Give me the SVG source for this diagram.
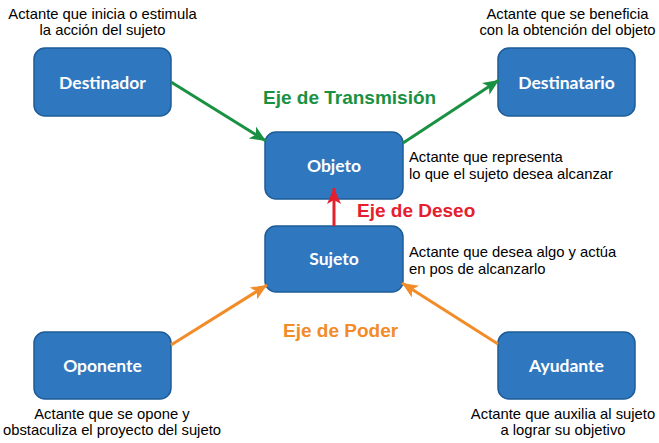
<svg xmlns="http://www.w3.org/2000/svg" width="659" height="443" viewBox="0 0 659 443">
<style>
.box{fill:#2F77BF;stroke:#1E5C98;stroke-width:1.5}
.lbl{font-family:Lato,"Open Sans",sans-serif;font-weight:bold;font-size:17.5px;fill:#fff;text-anchor:middle}
.ann{font-family:"Liberation Sans",Arial,sans-serif;font-size:14.8px;fill:#000}
.axis{font-family:"Liberation Sans",Arial,sans-serif;font-weight:bold;font-size:19px}
.g{stroke:#1A9142;stroke-width:3;fill:none}
.r{stroke:#E5202E;stroke-width:3;fill:none}
.o{stroke:#F28C28;stroke-width:3;fill:none}
</style>
<defs>
<marker id="ag" markerUnits="userSpaceOnUse" markerWidth="16" markerHeight="14" refX="16" refY="7" orient="auto"><path d="M0,0 L16,7 L0,14 L4,7 z" fill="#1A9142"/></marker>
<marker id="ar" markerUnits="userSpaceOnUse" markerWidth="16" markerHeight="14" refX="16" refY="7" orient="auto"><path d="M0,0 L16,7 L0,14 L4,7 z" fill="#E5202E"/></marker>
<marker id="ao" markerUnits="userSpaceOnUse" markerWidth="16" markerHeight="14" refX="16" refY="7" orient="auto"><path d="M0,0 L16,7 L0,14 L4,7 z" fill="#F28C28"/></marker>
</defs>
<g id="destinador"><rect class="box" x="34" y="48" width="137" height="68" rx="11"/><text class="lbl" x="102.5" y="89">Destinador</text></g>
<g id="destinatario"><rect class="box" x="498" y="48" width="137" height="68" rx="11"/><text class="lbl" x="566.5" y="89">Destinatario</text></g>
<g id="objeto"><rect class="box" x="265" y="132" width="138" height="67" rx="11"/><text class="lbl" x="334" y="172">Objeto</text></g>
<g id="sujeto"><rect class="box" x="265" y="226" width="138" height="66" rx="11"/><text class="lbl" x="334" y="265">Sujeto</text></g>
<g id="oponente"><rect class="box" x="34" y="332" width="137" height="67" rx="11"/><text class="lbl" x="102.5" y="372">Oponente</text></g>
<g id="ayudante"><rect class="box" x="498" y="332" width="137" height="67" rx="11"/><text class="lbl" x="566.5" y="372">Ayudante</text></g>
<g id="connectors">
<line class="g" x1="171" y1="82" x2="266" y2="141" marker-end="url(#ag)"/>
<line class="g" x1="403" y1="143" x2="499" y2="80" marker-end="url(#ag)"/>
<line class="r" x1="334" y1="226" x2="334" y2="188" marker-end="url(#ar)"/>
<line class="o" x1="171" y1="345" x2="267" y2="285" marker-end="url(#ao)"/>
<line class="o" x1="498" y1="344" x2="402" y2="283" marker-end="url(#ao)"/>
</g>
<g id="labels">
<text class="ann" text-anchor="middle" x="102.5" y="19">Actante que inicia o estimula</text>
<text class="ann" text-anchor="middle" x="102.5" y="35">la acción del sujeto</text>
<text class="ann" text-anchor="middle" x="567.5" y="19">Actante que se beneficia</text>
<text class="ann" text-anchor="middle" x="567.5" y="35">con la obtención del objeto</text>
<text class="ann" x="409" y="162">Actante que representa</text>
<text class="ann" x="409" y="179">lo que el sujeto desea alcanzar</text>
<text class="ann" x="409" y="257">Actante que desea algo y actúa</text>
<text class="ann" x="409" y="274">en pos de alcanzarlo</text>
<text class="ann" text-anchor="middle" x="112" y="419">Actante que se opone y</text>
<text class="ann" text-anchor="middle" x="112" y="435">obstaculiza el proyecto del sujeto</text>
<text class="ann" text-anchor="middle" x="563" y="419">Actante que auxilia al sujeto</text>
<text class="ann" text-anchor="middle" x="563" y="435">a lograr su objetivo</text>
<text class="axis" fill="#1A9142" x="263" y="104">Eje de Transmisión</text>
<text class="axis" fill="#E5202E" x="357" y="217">Eje de Deseo</text>
<text class="axis" fill="#F28C28" x="283" y="337">Eje de Poder</text>
</g>
</svg>
